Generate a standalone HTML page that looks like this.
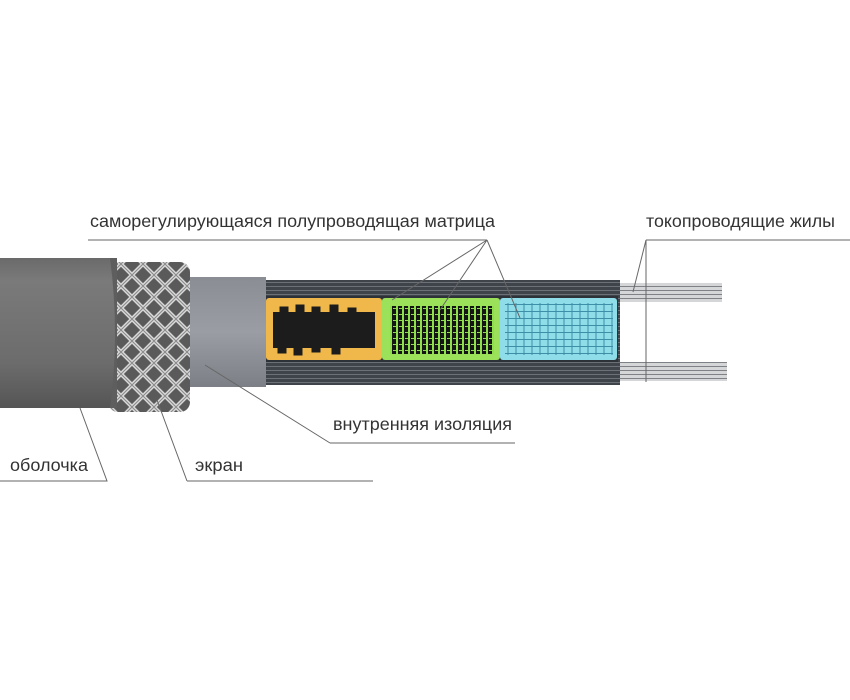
<!DOCTYPE html>
<html><head><meta charset="utf-8"><style>
html,body{margin:0;padding:0;background:#fff;width:850px;height:700px;overflow:hidden}
svg{display:block}
text{font-family:"Liberation Sans","DejaVu Sans",sans-serif;font-size:17.6px;fill:#333}
</style></head><body>
<svg width="850" height="700" viewBox="0 0 850 700" xmlns="http://www.w3.org/2000/svg">
<defs>
<linearGradient id="sheath" x1="0" y1="0" x2="0" y2="1">
<stop offset="0" stop-color="#6a6a6a"/><stop offset="0.15" stop-color="#7a7a7a"/><stop offset="0.7" stop-color="#6c6c6c"/><stop offset="1" stop-color="#555"/></linearGradient>
<linearGradient id="ins" x1="0" y1="0" x2="0" y2="1">
<stop offset="0" stop-color="#8a8e94"/><stop offset="0.5" stop-color="#9a9ea4"/><stop offset="1" stop-color="#7c8086"/></linearGradient>
<pattern id="stripes" width="10" height="4" patternUnits="userSpaceOnUse">
<rect width="10" height="4" fill="#3f444a"/><rect y="2" width="10" height="1" fill="#6c7178"/></pattern>
<pattern id="wire" width="10" height="4" patternUnits="userSpaceOnUse">
<rect width="10" height="4" fill="#d4d6d8"/><rect y="2" width="10" height="1" fill="#7e8286"/></pattern>
<pattern id="braid" width="22" height="22" patternUnits="userSpaceOnUse">
<rect width="22" height="22" fill="#5a5a5a"/>
<path d="M0 11 L11 0 L22 11 L11 22 Z" fill="none" stroke="#d8d8d8" stroke-width="4"/>
<path d="M0 11 L11 0 L22 11 L11 22 Z" fill="none" stroke="#888" stroke-width="1"/></pattern>
<pattern id="blue" width="8" height="7" patternUnits="userSpaceOnUse">
<rect width="8" height="7" fill="#8fdde8"/><path d="M0 3.5H8M4 0V7" stroke="#3c8fa6" stroke-width="1"/></pattern>
<pattern id="grn" width="6" height="6" patternUnits="userSpaceOnUse">
<rect width="6" height="6" fill="#151515"/><rect x="0" y="0" width="2" height="6" fill="#8ee04a"/><rect x="3" y="2" width="3" height="1" fill="#8ee04a"/></pattern>
</defs>

<rect x="600" y="283" width="122" height="19" fill="url(#wire)"/>
<rect x="600" y="362" width="127" height="19" fill="url(#wire)"/>
<rect x="255" y="280" width="365" height="105" fill="url(#stripes)"/>
<rect x="262" y="296" width="356" height="66" fill="#2d3238"/>
<rect x="266" y="298" width="116" height="62" fill="#f0b84a" rx="3"/>
<rect x="273" y="312" width="102" height="36" fill="#1c1c1c"/>
<path d="M273 314 h8 v-6 h6 v6 h10 v-8 h6 v8 h10 v-6 h6 v6 h12 v-8 h6 v8 h12 v-5 h6 v5 h14 M273 346 h6 v6 h6 v-6 h10 v8 h6 v-8 h12 v5 h6 v-5 h14 v7 h6 v-7 h20" fill="#1c1c1c" stroke="#1c1c1c" stroke-width="3"/>
<rect x="382" y="298" width="118" height="62" fill="#9be25a" rx="3"/>
<rect x="390" y="306" width="104" height="48" fill="url(#grn)"/>
<rect x="500" y="298" width="117" height="62" fill="#8fdde8" rx="3"/>
<rect x="505" y="303" width="108" height="52" fill="url(#blue)"/>
<rect x="183" y="277" width="83" height="110" fill="url(#ins)"/>
<rect x="108" y="262" width="82" height="150" fill="url(#braid)" rx="10"/>
<rect x="0" y="258" width="117" height="150" fill="url(#sheath)"/>
<path d="M110 258 Q120 333 110 408 L117 408 L117 258Z" fill="#5e5e5e"/>

<g stroke="#666" stroke-width="1" fill="none">
<path d="M88 240 H487"/>
<path d="M487 240 L392 300 M487 240 L440 310 M487 240 L520 318"/>
<path d="M646 240 H850 M646 240 V382 M646 240 L633 292"/>
<path d="M330 443 H515 M330 443 L205 365"/>
<path d="M0 481 H107 L80 408"/>
<path d="M187 481 H373 M187 481 L157 400"/>
</g>
<text x="90" y="227" textLength="405" lengthAdjust="spacingAndGlyphs">саморегулирующаяся полупроводящая матрица</text>
<text x="646" y="227" textLength="189" lengthAdjust="spacingAndGlyphs">токопроводящие жилы</text>
<text x="333" y="430" textLength="179" lengthAdjust="spacingAndGlyphs">внутренняя изоляция</text>
<text x="10" y="471" textLength="78" lengthAdjust="spacingAndGlyphs">оболочка</text>
<text x="195" y="471" textLength="48" lengthAdjust="spacingAndGlyphs">экран</text>
</svg>
</body></html>
